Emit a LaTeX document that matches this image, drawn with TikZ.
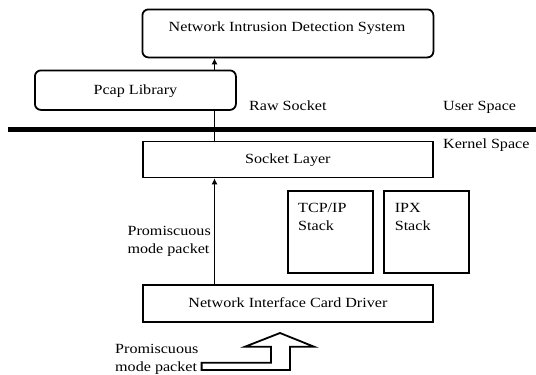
\documentclass[tikz,border=0pt]{standalone}
\usepackage{fontspec}
\setmainfont{Liberation Serif}[FakeStretch=1.15]
\usetikzlibrary{arrows.meta}
\begin{document}
\begin{tikzpicture}[x=1bp,y=-1bp,
  box/.style={draw, line width=1.8bp, inner sep=0pt, anchor=north west,
    font=\fontsize{14bp}{18bp}\selectfont, text height=9.5bp, text depth=1bp},
  rbox/.style={box, rounded corners=6bp},
  txt/.style={font=\fontsize{14bp}{18bp}\selectfont, inner sep=0pt, align=left},
  link/.style={line width=1.8bp},
  arr/.style={link, -{Latex[length=6bp,width=6bp]}},
  divider/.style={line width=5bp},
  bigarrow/.style={draw, line width=1.8bp, line join=miter}]
\fill[white] (0,0) rectangle (536,374);
\useasboundingbox (0,0) rectangle (536,374);

% user-space components
\node[rbox, minimum width=291bp, minimum height=48bp] (nids) at (141.5,8.5) {};
\node[txt, anchor=base] (nidslabel) at (287,31.4) {Network Intrusion Detection System};
\node[rbox, minimum width=201bp, minimum height=39.5bp] (pcap) at (34,69.5) {Pcap Library};

% user/kernel boundary
\coordinate (divL) at (8,129.5);
\coordinate (divR) at (536,129.5);
\draw[divider] (divL) -- (divR);
\node[txt, anchor=base west] (raw) at (249,110) {Raw Socket};
\node[txt, anchor=base west] (user) at (443,110) {User Space};
\node[txt, anchor=base west] (kernel) at (443,148) {Kernel Space};

% kernel-space components (multi-line labels are placed by their last baseline)
\node[box, minimum width=290bp, minimum height=36bp] (socket) at (142,140.5) {Socket Layer};
\node[box, minimum width=85bp, minimum height=82bp] (tcp) at (287,190) {};
\node[txt, anchor=base west] (tcplabel) at (298,230) {TCP/IP\\Stack};
\node[box, minimum width=85bp, minimum height=82bp] (ipx) at (383,190) {};
\node[txt, anchor=base west] (ipxlabel) at (394.6,230) {IPX\\Stack};
\node[box, minimum width=290bp, minimum height=37bp] (nic) at (142,284) {Network Interface Card Driver};

% packet path
\coordinate (ax) at (214.5,0);
\draw[arr] (ax |- nic.north) -- (ax |- socket.south);
\draw[link] (ax |- socket.north) -- (ax |- pcap.south);
\draw[arr] (ax |- pcap.north) -- (ax |- nids.south);
\node[txt, anchor=base east] (promup) at (211,253) {Promiscuous\\mode packet};

% incoming packets (bent block arrow)
\draw[bigarrow] (201.6,362.7) -- (271,362.7) -- (271,346.7) -- (245,346.7)
  -- (280,333) -- (314,346.7) -- (290,346.7) -- (290,370) -- (201.6,370) -- cycle;
\node[txt, anchor=base west] (promlow) at (115,371) {Promiscuous\\mode packet};
\end{tikzpicture}
\end{document}
